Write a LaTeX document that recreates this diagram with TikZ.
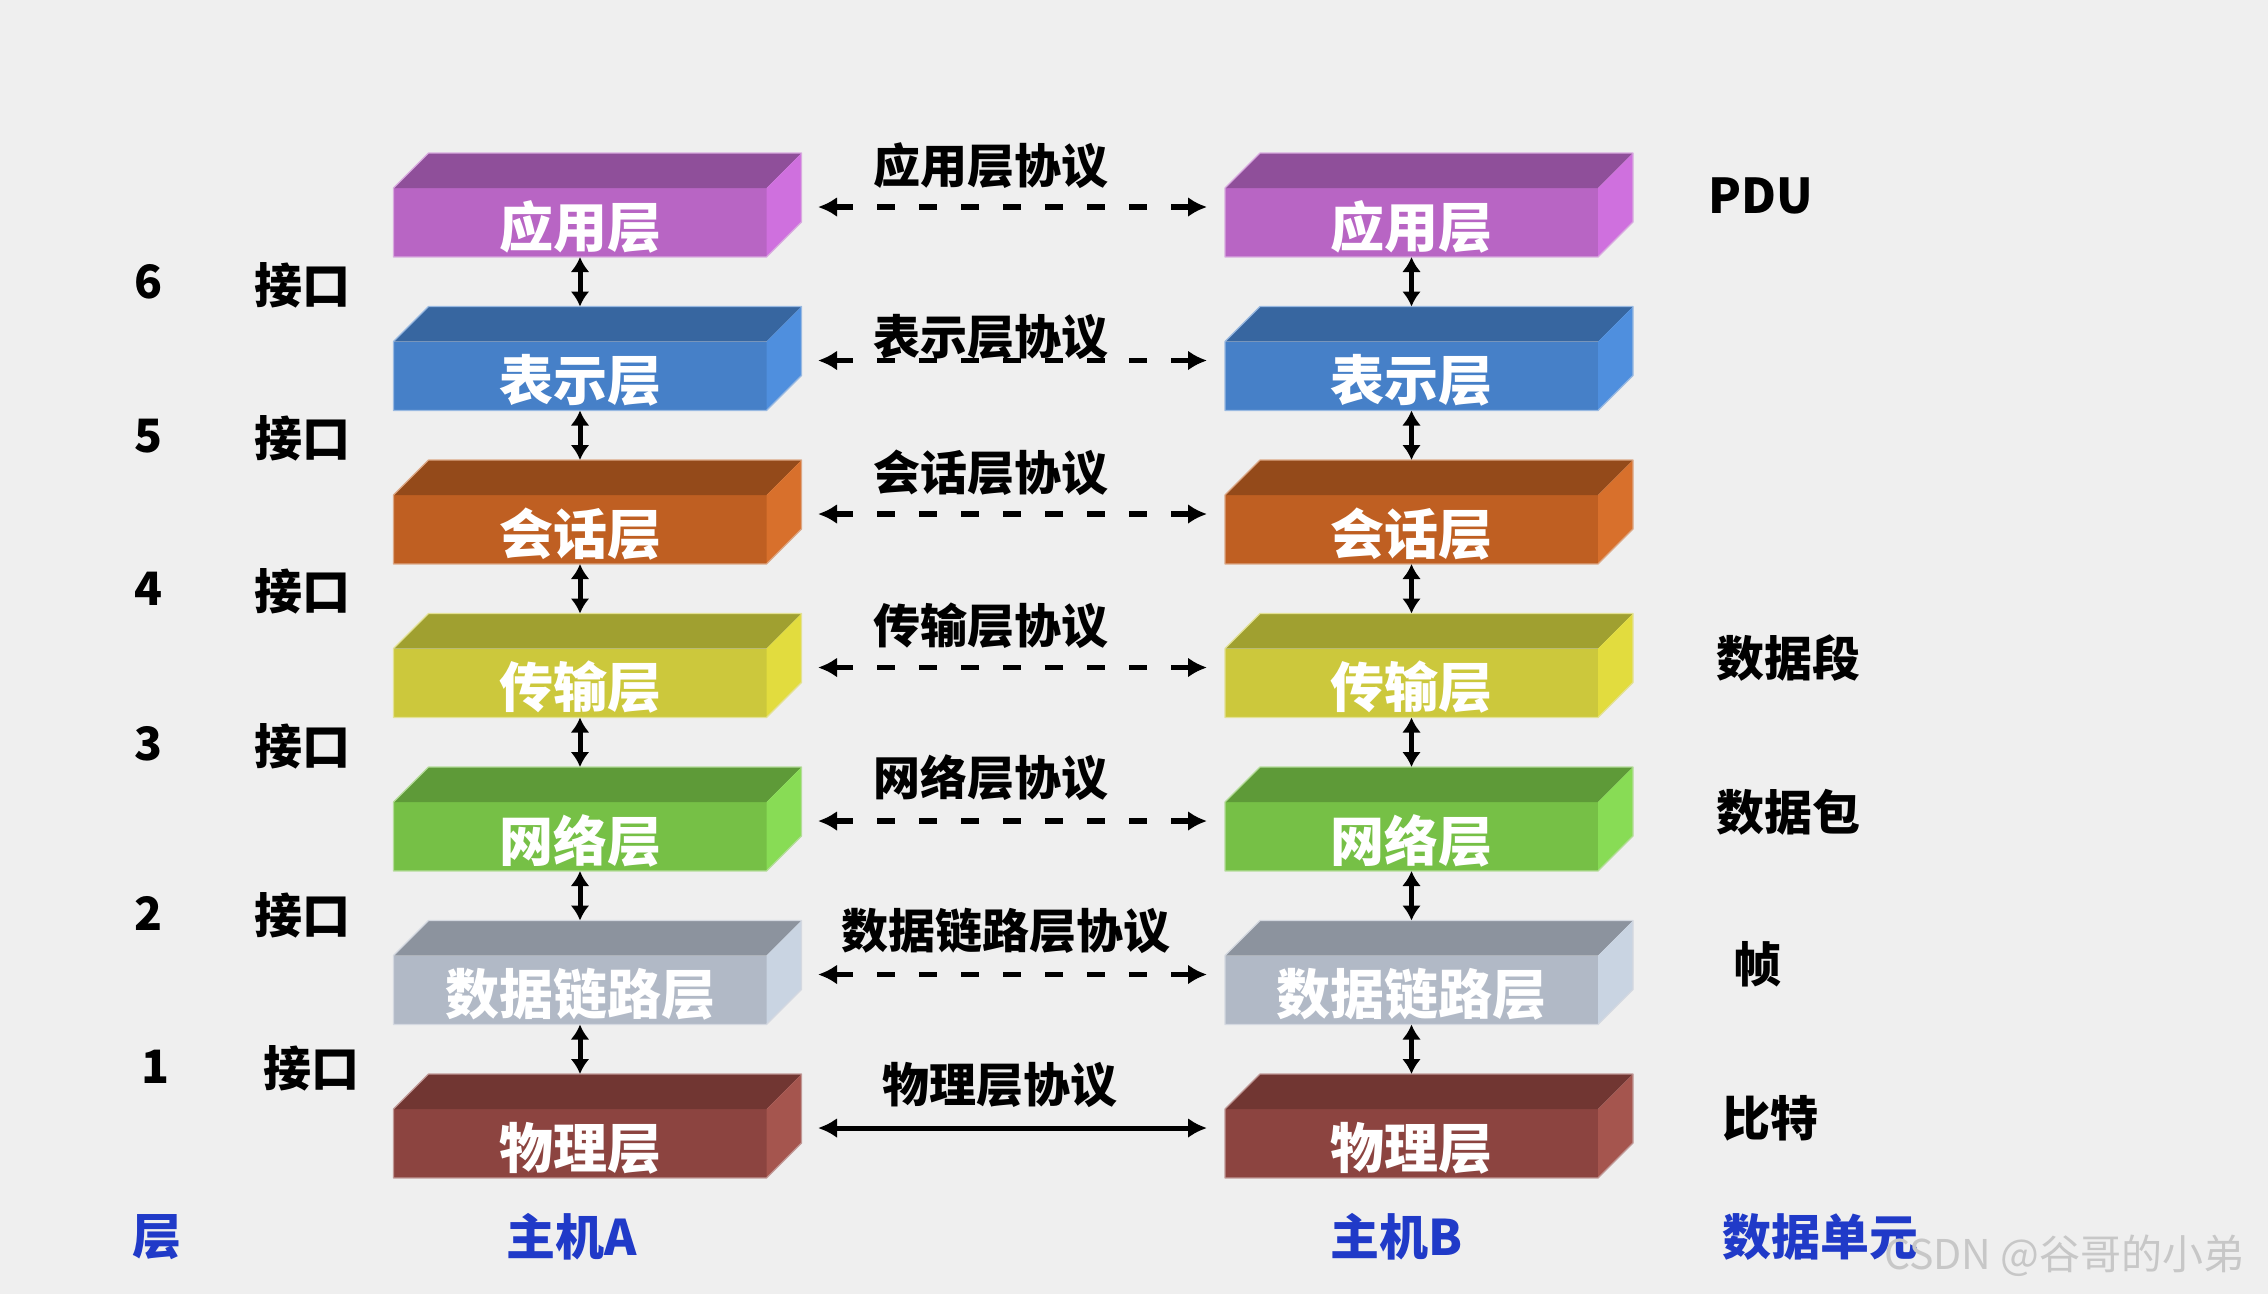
\documentclass[tikz,border=0pt]{standalone}
\usepackage{fontspec}
\setmainfont{Noto Sans CJK SC}
\usetikzlibrary{arrows.meta,calc}
\definecolor{bg}{HTML}{EFEFEF}
\definecolor{blu}{RGB}{32,58,200}
\definecolor{appT}{HTML}{8F4F9A}\definecolor{appF}{HTML}{B865C4}\definecolor{appS}{HTML}{CF70DE}
\definecolor{preT}{HTML}{3766A0}\definecolor{preF}{HTML}{4680C8}\definecolor{preS}{HTML}{4F8FDE}
\definecolor{sesT}{HTML}{944A1A}\definecolor{sesF}{HTML}{BF5F22}\definecolor{sesS}{HTML}{D8702C}
\definecolor{traT}{HTML}{A0A030}\definecolor{traF}{HTML}{CCC83C}\definecolor{traS}{HTML}{E2DC3E}
\definecolor{netT}{HTML}{5E9A38}\definecolor{netF}{HTML}{76C046}\definecolor{netS}{HTML}{88DC55}
\definecolor{dlkT}{HTML}{8C939E}\definecolor{dlkF}{HTML}{B1B9C6}\definecolor{dlkS}{HTML}{C9D4E2}
\definecolor{phyT}{HTML}{713632}\definecolor{phyF}{HTML}{8C4440}\definecolor{phyS}{HTML}{A5554E}
\begin{document}
\begin{tikzpicture}[x=1pt,y=-1pt,
  front/.style={rectangle,minimum width=373pt,minimum height=69pt,inner sep=0pt,outer sep=0pt},
  boxtext/.style={inner sep=0pt,text=white,font=\fontsize{54}{60}\selectfont\bfseries},
  plabel/.style={inner sep=0pt,text=black,font=\fontsize{47}{54}\selectfont\bfseries},
  llabel/.style={inner sep=0pt,text=black,font=\fontsize{48}{54}\selectfont\bfseries},
  nlabel/.style={inner sep=0pt,text=black,font=\fontsize{46}{52}\selectfont\bfseries},
  rlabel/.style={inner sep=0pt,anchor=west,text=black,font=\fontsize{48}{56}\selectfont\bfseries},
  blabel/.style={inner sep=0pt,text=blu,font=\fontsize{49}{56}\selectfont\bfseries},
  varr/.style={line width=5pt,{Latex[length=15pt,width=19pt]}-{Latex[length=15pt,width=19pt]}},
  harr/.style={line width=5.5pt,{Latex[length=19pt,width=20pt]}-{Latex[length=19pt,width=20pt]}},
  dashline/.style={dash pattern=on 18pt off 24pt,dash phase=0pt}
]
\fill[bg] (0,0) rectangle (2268,1294);
\useasboundingbox (0,0) rectangle (2268,1294);

\foreach \i/\txt/\cl in {0/应用层/app,1/表示层/pre,2/会话层/ses,3/传输层/tra,4/网络层/net,5/数据链路层/dlk,6/物理层/phy}{
  \pgfmathsetmacro\T{188+153.5*\i}
  \foreach \h/\cx in {A/580,B/1411.5}{
    \node[front,fill=\cl F] (\h\i) at (\cx,\T+34.5) {};
    \fill[\cl T] (\h\i.north west) -- ++(35,-35) -- ++(373,0) -- (\h\i.north east) -- cycle;
    \fill[\cl S] (\h\i.north east) -- ++(35,-35) -- ++(0,69) -- (\h\i.south east) -- cycle;
    \draw[\cl F!55!white,line width=1.2pt,line join=round] (\h\i.south west) -- (\h\i.north west) -- ++(35,-35) -- ++(373,0) -- ++(0,69) -- (\h\i.south east) -- cycle;
    \coordinate (\h top\i) at ($(\h\i.north)+(0,-35)$);
    \node[boxtext] (\h lbl\i) at ($(\h\i.north)+(0,39)$) {\txt};
  }
}

% vertical interface arrows
\foreach \i in {0,...,5}{
  \pgfmathtruncatemacro\j{\i+1}
  \draw[varr] (A\i.south) -- (Atop\j);
  \draw[varr] (B\i.south) -- (Btop\j);
}

% peer protocol arrows
\foreach \i in {0,...,5}{
  \draw[harr,dashline] ($(A\i.north east)+(51.5,19)$) -- ($(B\i.north west)+(-18,19)$);
}
\draw[harr,line width=5pt] ($(A6.north east)+(51.5,19)$) -- ($(B6.north west)+(-18,19)$);

% protocol labels
\node[plabel] (p0) at (991,166) {应用层协议};
\node[plabel] (p1) at (991,337) {表示层协议};
\node[plabel] (p2) at (991,473) {会话层协议};
\node[plabel] (p3) at (991,626) {传输层协议};
\node[plabel] (p4) at (991,778) {网络层协议};
\node[plabel] (p5) at (1006,931) {数据链路层协议};
\node[plabel] (p6) at (1000,1085) {物理层协议};

% left column
\node[nlabel] (n6) at (149,282) {6};
\node[llabel] (i6) at (302,285) {接口};
\node[nlabel] (n5) at (149,436) {5};
\node[llabel] (i5) at (302,438) {接口};
\node[nlabel] (n4) at (149,589) {4};
\node[llabel] (i4) at (302,591) {接口};
\node[nlabel] (n3) at (149,744) {3};
\node[llabel] (i3) at (302,746) {接口};
\node[nlabel] (n2) at (149,913) {2};
\node[llabel] (i2) at (302,915) {接口};
\node[nlabel] (n1) at (156,1067) {1};
\node[llabel] (i1) at (311,1068) {接口};

% right column
\node[rlabel,font=\fontsize{48}{56}\selectfont\bfseries] (pdu) at (1708,196) {PDU};
\node[rlabel] (seg) at (1716,658) {数据段};
\node[rlabel] (pkt) at (1716,812) {数据包};
\node[rlabel] (frm) at (1733,964) {帧};
\node[rlabel] (bit) at (1722,1118) {比特};

% bottom labels
\node[blabel] (cl) at (157,1237) {层};
\node[blabel] (ha) at (572,1237) {主机A};
\node[blabel] (hb) at (1397,1237) {主机B};
\node[blabel] (du) at (1820,1237) {数据单元};

% watermark
\node[inner sep=0pt,anchor=west,text=black!22,font=\fontsize{41}{46}\selectfont] (wm) at (1884,1256) {CSDN @谷哥的小弟};
\end{tikzpicture}
\end{document}
